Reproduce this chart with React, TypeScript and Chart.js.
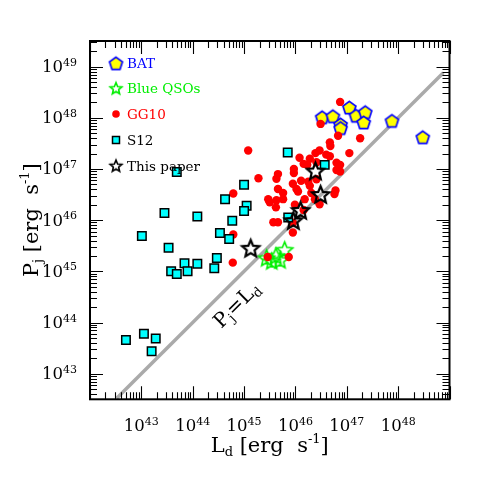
import React, { useEffect, useRef } from "react";
import { Chart, registerables } from "chart.js";
Chart.register(...registerables);

// log10 values
const batLogLd = [46.52, 46.73, 47.05, 47.18, 47.36, 47.33, 46.88, 46.88, 47.88, 48.48];
const batLogPj = [48.01, 48.03, 48.2, 48.04, 48.11, 47.91, 47.87, 47.8, 47.94, 47.62];

const qsoLogLd = [45.44, 45.54, 45.62, 45.7, 45.79];
const qsoLogPj = [45.26, 45.2, 45.3, 45.22, 45.42];

const gg10LogLd = [46.87, 46.49, 46.83, 47.26, 46.67, 46.68, 45.08, 47.05, 46.47, 46.39, 46.6, 46.67, 46.08, 46.16, 46.23, 46.8, 46.87, 45.97, 45.97, 46.8, 46.87, 45.66, 45.63, 45.28, 46.11, 46.25, 46.41, 45.95, 46.02, 46.28, 45.66, 45.76, 46.05, 44.79, 45.47, 45.5, 45.63, 45.76, 46.18, 46.31, 46.38, 46.78, 46.76, 46.47, 45.62, 45.99, 46.16, 45.57, 45.66, 45.95, 44.79, 44.78, 45.87, 45.46, 46.28, 46.41, 45.95];
const gg10LogPj = [48.31, 47.88, 47.65, 47.6, 47.52, 47.45, 47.36, 47.31, 47.36, 47.31, 47.28, 47.25, 47.22, 47.1, 47.08, 47.12, 47.08, 47.0, 46.92, 46.98, 46.95, 46.9, 46.81, 46.82, 46.77, 46.75, 46.8, 46.71, 46.61, 46.67, 46.61, 46.53, 46.56, 46.52, 46.41, 46.35, 46.39, 46.41, 46.41, 46.53, 46.41, 46.58, 46.51, 46.31, 46.25, 46.3, 46.2, 45.96, 45.96, 45.76, 45.72, 45.17, 45.28, 45.28, 47.2, 47.13, 45.95];

const s12LogLd = [43.69, 45.85, 46.57, 45.0, 44.63, 45.05, 45.0, 43.45, 44.09, 44.77, 45.86, 43.01, 44.53, 44.71, 43.53, 44.47, 43.84, 44.09, 43.58, 43.69, 43.9, 44.42, 42.7, 43.05, 43.28, 43.2];
const s12LogPj = [46.94, 47.32, 47.08, 46.69, 46.41, 46.28, 46.18, 46.14, 46.07, 45.99, 46.05, 45.69, 45.75, 45.63, 45.46, 45.26, 45.16, 45.15, 45.0, 44.95, 45.0, 45.06, 43.66, 43.78, 43.69, 43.44];

const paperLogLd = [45.13, 45.96, 46.1, 46.39, 46.49];
const paperLogPj = [45.45, 45.99, 46.19, 46.96, 46.5];

const equalityLogRange = [42.52, 48.88];

const xLogRange = [42, 49];
const yLogRange = [42.5, 49.5];
const xTickExponents = [43, 44, 45, 46, 47, 48];
const yTickExponents = [43, 44, 45, 46, 47, 48, 49];
const legendLabels = ["BAT", "Blue QSOs", "GG10", "S12", "This paper"];
const legendColors = ["#0000ff", "#00ee00", "#ff0000", "#000000", "#000000"];

const SERIF = '"DejaVu Serif", serif';

function pts(lx: number[], ly: number[]) {
  return lx.map((v, i) => ({ x: Math.pow(10, v), y: Math.pow(10, ly[i]) }));
}

function starCanvas(R: number, ratio: number, color: string, lw: number) {
  const s = Math.ceil(2 * R + 2 * lw + 2);
  const c = document.createElement("canvas");
  c.width = s;
  c.height = s;
  const g = c.getContext("2d")!;
  g.translate(s / 2, s / 2 + R * 0.08);
  g.beginPath();
  for (let i = 0; i < 10; i++) {
    const a = -Math.PI / 2 + (i * Math.PI) / 5;
    const r = i % 2 === 0 ? R : R * ratio;
    g.lineTo(r * Math.cos(a), r * Math.sin(a));
  }
  g.closePath();
  g.lineJoin = "miter";
  g.strokeStyle = color;
  g.lineWidth = lw;
  g.stroke();
  return c;
}

function pentagonCanvas(R: number, fill: string, stroke: string, lw: number) {
  const s = Math.ceil(2 * R + 2 * lw + 2);
  const c = document.createElement("canvas");
  c.width = s;
  c.height = s;
  const g = c.getContext("2d")!;
  g.translate(s / 2, s / 2 + R * 0.1);
  g.beginPath();
  for (let i = 0; i < 5; i++) {
    const a = -Math.PI / 2 + (i * 2 * Math.PI) / 5;
    g.lineTo(R * Math.cos(a), R * Math.sin(a));
  }
  g.closePath();
  g.fillStyle = fill;
  g.fill();
  g.strokeStyle = stroke;
  g.lineWidth = lw;
  g.stroke();
  return c;
}

type Part = { t: string; size: number; dy: number };

function drawRich(ctx: CanvasRenderingContext2D, parts: Part[], x: number, y: number, align: "left" | "center" | "right") {
  ctx.textAlign = "left";
  ctx.textBaseline = "alphabetic";
  let total = 0;
  for (const p of parts) {
    ctx.font = `${p.size}px ${SERIF}`;
    total += ctx.measureText(p.t).width;
  }
  let cx = align === "left" ? x : align === "center" ? x - total / 2 : x - total;
  for (const p of parts) {
    ctx.font = `${p.size}px ${SERIF}`;
    ctx.fillText(p.t, cx, y + p.dy);
    cx += ctx.measureText(p.t).width;
  }
}

export default function App() {
  const ref = useRef<HTMLCanvasElement | null>(null);

  useEffect(() => {
    const canvas = ref.current;
    if (!canvas) return;

    const pentagon = pentagonCanvas(6.8, "#ffff00", "#0000ff", 1.7);
    const blackStar = starCanvas(9, 0.45, "#000000", 2.2);
    const greenStar = starCanvas(8.5, 0.45, "#00ee00", 1.6);
    const blackStarSmall = starCanvas(6.2, 0.45, "#000000", 1.6);
    const greenStarSmall = starCanvas(6.2, 0.45, "#00ee00", 1.6);

    const decor = {
      id: "decor",
      afterDraw(chart: any) {
        const ctx: CanvasRenderingContext2D = chart.ctx;
        const { left, right, top, bottom } = chart.chartArea;
        const xs = chart.scales.x;
        const ys = chart.scales.y;
        ctx.save();

        // ticks, mirrored on all sides, pointing inward
        ctx.strokeStyle = "#000";
        ctx.lineWidth = 1.1;
        ctx.beginPath();
        for (let e = Math.floor(xLogRange[0]); e <= Math.ceil(xLogRange[1]); e++) {
          for (let k = 1; k <= 9; k++) {
            const lv = e + Math.log10(k);
            if (lv < xLogRange[0] - 1e-6 || lv > xLogRange[1] + 1e-6) continue;
            const px = Math.round(xs.getPixelForValue(Math.pow(10, lv))) + 0.5;
            const L = k === 1 ? 13 : 7;
            ctx.moveTo(px, bottom);
            ctx.lineTo(px, bottom - L);
            ctx.moveTo(px, top);
            ctx.lineTo(px, top + L);
          }
        }
        for (let e = Math.floor(yLogRange[0]); e <= Math.ceil(yLogRange[1]); e++) {
          for (let k = 1; k <= 9; k++) {
            const lv = e + Math.log10(k);
            if (lv < yLogRange[0] - 1e-6 || lv > yLogRange[1] + 1e-6) continue;
            const py = Math.round(ys.getPixelForValue(Math.pow(10, lv))) + 0.5;
            const L = k === 1 ? 13 : 7;
            ctx.moveTo(left, py);
            ctx.lineTo(left + L, py);
            ctx.moveTo(right, py);
            ctx.lineTo(right - L, py);
          }
        }
        ctx.stroke();

        // frame
        ctx.lineWidth = 2;
        ctx.strokeRect(left, top, right - left, bottom - top);

        // tick labels
        ctx.fillStyle = "#000";
        for (const e of xTickExponents) {
          const px = xs.getPixelForValue(Math.pow(10, e));
          drawRich(ctx, [
            { t: "10", size: 16.5, dy: 0 },
            { t: String(e), size: 11, dy: -6.5 },
          ], px, bottom + 32, "center");
        }
        for (const e of yTickExponents) {
          const py = ys.getPixelForValue(Math.pow(10, e));
          drawRich(ctx, [
            { t: "10", size: 16.5, dy: 0 },
            { t: String(e), size: 11, dy: -6.5 },
          ], left - 13, py + 5.5, "right");
        }

        // axis titles
        drawRich(ctx, [
          { t: "L", size: 21, dy: 0 },
          { t: "d", size: 13, dy: 4 },
          { t: " [erg  s", size: 21, dy: 0 },
          { t: "-1", size: 13, dy: -9 },
          { t: "]", size: 21, dy: 0 },
        ], (left + right) / 2, bottom + 53, "center");

        ctx.save();
        ctx.translate(31, (top + bottom) / 2);
        ctx.rotate(-Math.PI / 2);
        drawRich(ctx, [
          { t: "P", size: 21, dy: 0 },
          { t: "j", size: 13, dy: 4 },
          { t: " [erg  s", size: 21, dy: 0 },
          { t: "-1", size: 13, dy: -9 },
          { t: "]", size: 21, dy: 0 },
        ], 0, 7, "center");
        ctx.restore();

        // equality line label
        const footV = Math.pow(10, 44.6);
        const fx = xs.getPixelForValue(footV);
        const fy = ys.getPixelForValue(footV);
        ctx.save();
        ctx.translate(fx + 12.5, fy + 12.5);
        ctx.rotate(-Math.PI / 4);
        drawRich(ctx, [
          { t: "P", size: 20, dy: 0 },
          { t: "j", size: 13, dy: 4 },
          { t: "=", size: 20, dy: 0 },
          { t: "L", size: 20, dy: 0 },
          { t: "d", size: 13, dy: 4 },
        ], 0, 7, "center");
        ctx.restore();

        // legend
        const mx = left + 26;
        const tx = left + 37;
        const rowY = [top + 22.3, top + 47.3, top + 73, top + 99, top + 124.7];
        for (let i = 0; i < legendLabels.length; i++) {
          const y = rowY[i];
          if (i === 0) ctx.drawImage(pentagon, mx - pentagon.width / 2, y - pentagon.height / 2);
          if (i === 1) ctx.drawImage(greenStarSmall, mx - greenStarSmall.width / 2, y - greenStarSmall.height / 2);
          if (i === 2) {
            ctx.beginPath();
            ctx.arc(mx, y, 3.8, 0, Math.PI * 2);
            ctx.fillStyle = "#ff0000";
            ctx.fill();
          }
          if (i === 3) {
            ctx.fillStyle = "#00ffff";
            ctx.fillRect(mx - 3.5, y - 3.5, 7, 7);
            ctx.lineWidth = 1.5;
            ctx.strokeStyle = "#000";
            ctx.strokeRect(mx - 3.5, y - 3.5, 7, 7);
          }
          if (i === 4) ctx.drawImage(blackStarSmall, mx - blackStarSmall.width / 2, y - blackStarSmall.height / 2);
          ctx.fillStyle = legendColors[i];
          ctx.font = `13.5px ${SERIF}`;
          ctx.textAlign = "left";
          ctx.textBaseline = "alphabetic";
          ctx.fillText(legendLabels[i], tx, y + 5);
        }
        ctx.restore();
      },
    };

    const chart = new Chart(canvas, {
      type: "scatter",
      data: {
        datasets: [
          {
            label: "Pj = Ld",
            data: pts(equalityLogRange, equalityLogRange),
            showLine: true,
            borderColor: "#aaaaaa",
            borderWidth: 3.5,
            pointRadius: 0,
            order: 10,
          } as any,
          {
            label: "BAT",
            data: pts(batLogLd, batLogPj),
            pointStyle: pentagon,
            pointRadius: 7,
            order: 5,
          },
          {
            label: "Blue QSOs",
            data: pts(qsoLogLd, qsoLogPj),
            pointStyle: greenStar,
            pointRadius: 9,
            order: 4,
          },
          {
            label: "GG10",
            data: pts(gg10LogLd, gg10LogPj),
            pointStyle: "circle",
            pointRadius: 4.2,
            backgroundColor: "#ff0000",
            borderWidth: 0,
            order: 3,
          },
          {
            label: "S12",
            data: pts(s12LogLd, s12LogPj),
            pointStyle: "rect",
            pointRadius: 6,
            backgroundColor: "#00ffff",
            borderColor: "#000000",
            borderWidth: 1.5,
            order: 2,
          },
          {
            label: "This paper",
            data: pts(paperLogLd, paperLogPj),
            pointStyle: blackStar,
            pointRadius: 9,
            order: 1,
          },
        ],
      },
      options: {
        animation: false,
        responsive: false,
        devicePixelRatio: 1,
        layout: { padding: { left: 90, top: 41, right: 41.5, bottom: 91.7 } },
        plugins: { legend: { display: false }, tooltip: { enabled: false } },
        scales: {
          x: {
            type: "logarithmic",
            display: false,
            min: Math.pow(10, xLogRange[0]),
            max: Math.pow(10, xLogRange[1]),
          },
          y: {
            type: "logarithmic",
            display: false,
            min: Math.pow(10, yLogRange[0]),
            max: Math.pow(10, yLogRange[1]),
          },
        },
      },
      plugins: [decor],
    });

    return () => chart.destroy();
  }, []);

  return (
    <div style={{ position: "fixed", left: 0, top: 0, width: 491, height: 491, background: "#fff" }}>
      <canvas ref={ref} width={491} height={491} style={{ display: "block", width: 491, height: 491 }} />
    </div>
  );
}
